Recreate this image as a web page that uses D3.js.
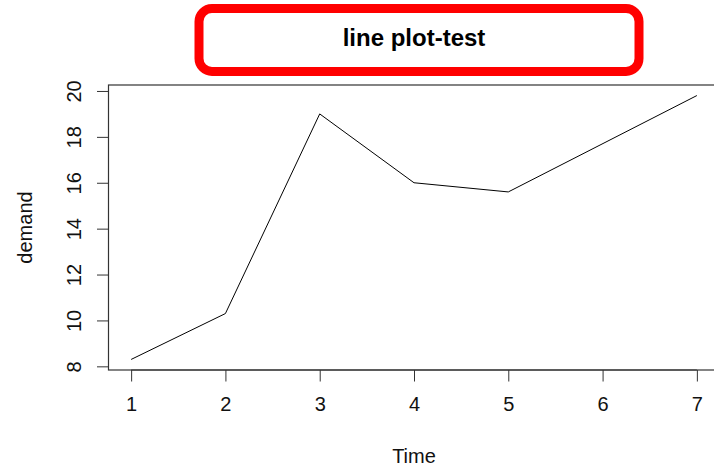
<!DOCTYPE html>
<html>
<head>
<meta charset="utf-8">
<script src="https://cdn.jsdelivr.net/npm/d3@7"></script>
<style>
  body { margin: 0; background: #fff; }
  svg { display: block; font-family: "Liberation Sans", Arial, sans-serif; }
</style>
</head>
<body>
<div id="chart"></div>
<script>
// values (looks like R's BOD data)
const time = [1, 2, 3, 4, 5, 7];
const demand = [8.3, 10.3, 19.0, 16.0, 15.6, 19.8];
const xTicks = [1, 2, 3, 4, 5, 6, 7];
const yTicks = [8, 10, 12, 14, 16, 18, 20];
const title = "line plot-test";
const xLabel = "Time";
const yLabel = "demand";

const width = 714, height = 466;
// plot box, R style: data range padded by 4% each side
const box = { left: 108.5, right: 719.5, top: 85, bottom: 370 };

let svg = d3.select("#chart").append("svg")
    .attr("width", width)
    .attr("height", height);

const xPad = (d3.max(time) - d3.min(time)) * 0.04;
const yPad = (d3.max(demand) - d3.min(demand)) * 0.04;

const x = d3.scaleLinear()
    .domain([d3.min(time) - xPad, d3.max(time) + xPad])
    .range([box.left, box.right]);
const y = d3.scaleLinear()
    .domain([d3.min(demand) - yPad, d3.max(demand) + yPad])
    .range([box.bottom, box.top]);

// title with the red rounded frame
svg.append("rect")
    .attr("x", 199).attr("y", 8.5)
    .attr("width", 440).attr("height", 63)
    .attr("rx", 13).attr("ry", 13)
    .attr("fill", "none")
    .attr("stroke", "#ff0000")
    .attr("stroke-width", 9);

svg.append("text")
    .attr("x", 414).attr("y", 46)
    .attr("text-anchor", "middle")
    .attr("font-weight", "bold")
    .attr("font-size", 24)
    .attr("fill", "#000")
    .text(title);

// plot frame
svg.append("rect")
    .attr("x", box.left).attr("y", box.top)
    .attr("width", box.right - box.left)
    .attr("height", box.bottom - box.top)
    .attr("fill", "none")
    .attr("stroke", "#333")
    .attr("stroke-width", 1.2);

// x axis
const xAxis = svg.append("g")
    .attr("transform", `translate(0,${box.bottom})`)
    .call(d3.axisBottom(x).tickValues(xTicks).tickSize(11.5).tickPadding(15).tickFormat(d3.format("d")));
xAxis.select(".domain")
    .attr("d", `M${x(xTicks[0])},0H${x(xTicks[xTicks.length - 1])}`)
    .attr("stroke", "#333");
xAxis.selectAll(".tick line").attr("stroke", "#333");
xAxis.selectAll(".tick text")
    .attr("font-size", 20)
    .attr("font-family", "Liberation Sans, Arial, sans-serif")
    .attr("fill", "#111");

// y axis, labels turned like R's default las=0
const yAxis = svg.append("g")
    .attr("transform", `translate(${box.left},0)`)
    .call(d3.axisLeft(y).tickValues(yTicks).tickSize(11.5).tickFormat(d3.format("d")));
yAxis.select(".domain")
    .attr("d", `M0,${y(yTicks[0])}V${y(yTicks[yTicks.length - 1])}`)
    .attr("stroke", "#333");
yAxis.selectAll(".tick line").attr("stroke", "#333");
yAxis.selectAll(".tick text")
    .attr("font-size", 20)
    .attr("font-family", "Liberation Sans, Arial, sans-serif")
    .attr("fill", "#111")
    .attr("x", null).attr("dy", null)
    .attr("text-anchor", "middle")
    .attr("transform", "translate(-35,0) rotate(-90)")
    .attr("dominant-baseline", "central");

// axis titles
svg.append("text")
    .attr("x", (box.left + box.right) / 2)
    .attr("y", 463)
    .attr("text-anchor", "middle")
    .attr("font-size", 20)
    .attr("fill", "#111")
    .text(xLabel);

svg.append("text")
    .attr("transform", `translate(32,${(box.top + box.bottom) / 2}) rotate(-90)`)
    .attr("text-anchor", "middle")
    .attr("font-size", 20)
    .attr("fill", "#111")
    .text(yLabel);

// the series
const line = d3.line()
    .x((d, i) => x(time[i]))
    .y(d => y(d));

svg.append("path")
    .datum(demand)
    .attr("d", line)
    .attr("fill", "none")
    .attr("stroke", "#000")
    .attr("stroke-width", 1);
</script>
</body>
</html>
